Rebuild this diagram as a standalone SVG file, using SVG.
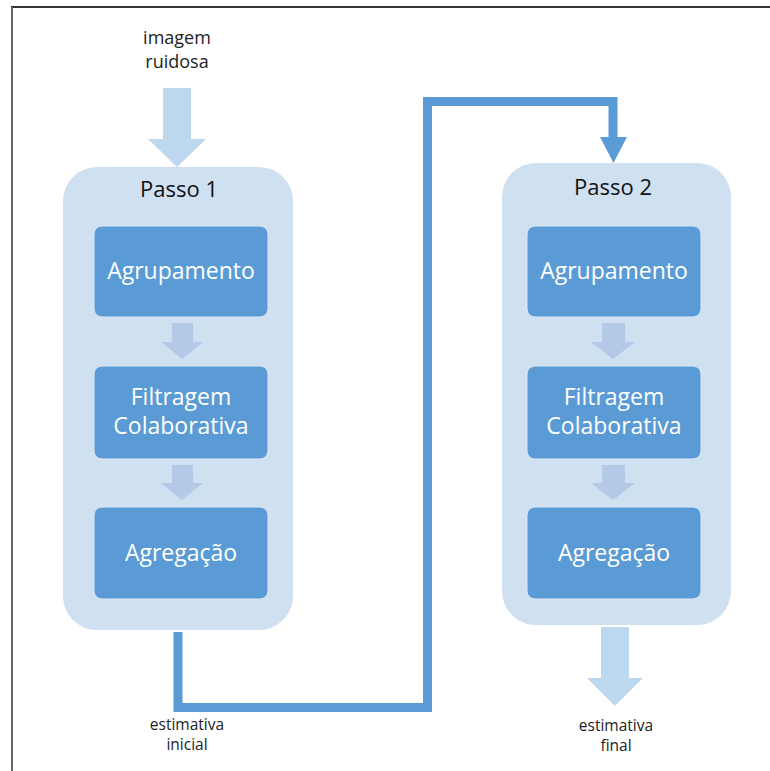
<svg xmlns="http://www.w3.org/2000/svg" width="770" height="771" viewBox="0 0 770 771">
<defs>
<style>
.frame{stroke:#333;stroke-width:2;fill:none}
.container{fill:#cfe0f1}
.box{fill:#5b9bd5;stroke:#dce9f6;stroke-width:1}
.boxtxt{font-family:"Open Sans","Noto Sans",sans-serif;font-size:23px;fill:#fff;text-anchor:middle}
.title{font-family:"Open Sans","Noto Sans",sans-serif;font-size:22px;fill:#111;text-anchor:middle}
.lbl{font-family:"Open Sans","Noto Sans",sans-serif;fill:#222;text-anchor:middle}
.small{fill:#b4c9e8}
.big{fill:#bdd7ee}
.conn{fill:none;stroke:#5b9bd5;stroke-width:9;stroke-linejoin:miter}
</style>
</defs>
<rect width="770" height="771" fill="#fff"/>
<line class="frame" x1="11" y1="7" x2="770" y2="7"/>
<line x1="12" y1="7" x2="12" y2="771" stroke="#666" stroke-width="2"/>

<g id="input-label">
<text class="lbl" x="177" y="44" font-size="18">imagem</text>
<text class="lbl" x="177" y="68" font-size="18">ruidosa</text>
</g>
<g id="input-arrow">
<polygon class="big" points="163,88 191,88 191,139 206,139 177,167 148,139 163,139"/>
</g>

<g id="passo1">
<rect class="container" x="63" y="167" width="230" height="463" rx="34"/>
<text class="title" x="179" y="197">Passo 1</text>
</g>
<g id="p1-agrupamento">
<rect class="box" x="94" y="226" width="174" height="91" rx="8"/>
<text class="boxtxt" x="181" y="279">Agrupamento</text>
</g>
<g id="p1-filtragem">
<rect class="box" x="94" y="366" width="174" height="93" rx="8"/>
<text class="boxtxt" x="181" y="405">Filtragem</text>
<text class="boxtxt" x="181" y="434">Colaborativa</text>
</g>
<g id="p1-agregacao">
<rect class="box" x="94" y="507" width="174" height="92" rx="8"/>
<text class="boxtxt" x="181" y="561">Agregação</text>
</g>

<g id="passo2">
<rect class="container" x="502" y="163" width="229" height="462" rx="34"/>
<text class="title" x="613" y="195">Passo 2</text>
</g>
<g id="p2-agrupamento">
<rect class="box" x="527" y="226" width="174" height="91" rx="8"/>
<text class="boxtxt" x="614" y="279">Agrupamento</text>
</g>
<g id="p2-filtragem">
<rect class="box" x="527" y="366" width="174" height="93" rx="8"/>
<text class="boxtxt" x="614" y="405">Filtragem</text>
<text class="boxtxt" x="614" y="434">Colaborativa</text>
</g>
<g id="p2-agregacao">
<rect class="box" x="527" y="507" width="174" height="92" rx="8"/>
<text class="boxtxt" x="614" y="561">Agregação</text>
</g>

<g id="connectors">
<polygon class="small" points="172,323 193,323 193,342 203,342 182,359 161,342 172,342"/>
<polygon class="small" points="172,465 193,465 193,483 203,483 182,500 161,483 172,483"/>
<polygon class="small" points="602,323 625,323 625,342 635,342 613,359 591,342 602,342"/>
<polygon class="small" points="602,465 625,465 625,483 635,483 613,500 591,483 602,483"/>
<path class="conn" d="M178 632 V707.5 H427.5 V101.5 H613 V138"/>
<polygon fill="#5b9bd5" points="600,137 627,137 613.5,163"/>
<polygon class="big" points="601,627 629,627 629,678 643,678 615,706 587,678 601,678"/>
</g>

<g id="output-labels">
<text class="lbl" x="187" y="730" font-size="15.5">estimativa</text>
<text class="lbl" x="187" y="750" font-size="15.5">inicial</text>
<text class="lbl" x="616" y="731" font-size="15.5">estimativa</text>
<text class="lbl" x="616" y="751" font-size="15.5">final</text>
</g>
</svg>
